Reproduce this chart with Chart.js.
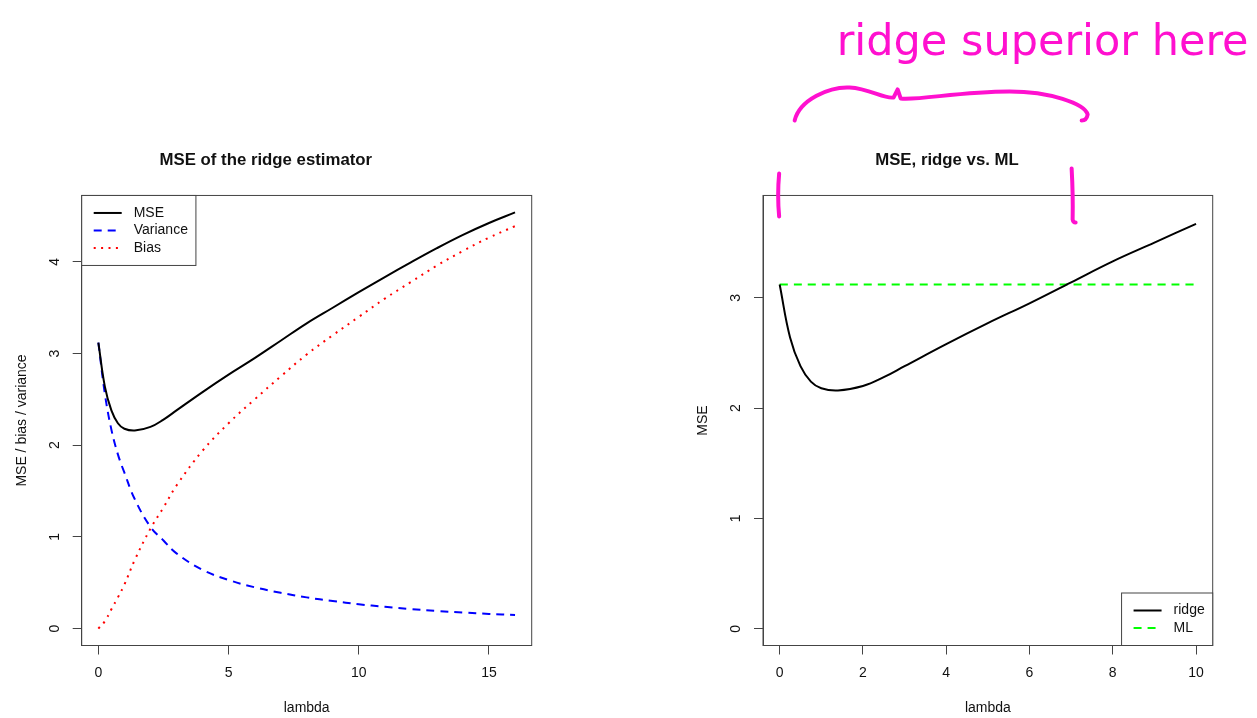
<!DOCTYPE html>
<html>
<head>
<meta charset="utf-8">
<title>Ridge MSE</title>
<script src="https://cdn.jsdelivr.net/npm/chart.js@4.4.0/dist/chart.umd.min.js"></script>
<style>
  html, body { margin: 0; padding: 0; background: #fff; }
  #wrap { position: relative; width: 1257px; height: 718px; }
  canvas { position: absolute; top: 0; }
  #left { left: 0; }
  #right { left: 628px; }
</style>
</head>
<body>
<div id="wrap">
  <canvas id="left" width="628" height="718"></canvas>
  <canvas id="right" width="629" height="718"></canvas>
</div>
<script>
// lambda grid and the curves read along it
const lambda   = [0, 0.25, 0.5, 0.75, 1, 1.4, 2, 2.5, 3, 4, 5, 6, 7, 8, 9, 10, 11, 12, 13, 14, 15, 16];
const mse      = [3.12, 2.64, 2.38, 2.24, 2.18, 2.16, 2.20, 2.28, 2.38, 2.58, 2.77, 2.95, 3.14, 3.33, 3.50, 3.67, 3.835, 3.995, 4.15, 4.295, 4.425, 4.54];
const variance = [3.12, 2.56, 2.17, 1.90, 1.70, 1.41, 1.11, 0.96, 0.82, 0.64, 0.53, 0.45, 0.39, 0.34, 0.30, 0.265, 0.237, 0.212, 0.192, 0.175, 0.16, 0.148];
const bias     = [0, 0.08, 0.21, 0.34, 0.48, 0.75, 1.09, 1.32, 1.56, 1.94, 2.24, 2.50, 2.75, 2.99, 3.20, 3.40, 3.60, 3.78, 3.96, 4.12, 4.265, 4.39];

// ML estimator: constant MSE
const mlLambda = [0, 10];
const mlMse    = [3.12, 3.12];

const leftXTicks  = [0, 5, 10, 15];
const leftYTicks  = [0, 1, 2, 3, 4];
const rightXTicks = [0, 2, 4, 6, 8, 10];
const rightYTicks = [0, 1, 2, 3];

// lambda range where ridge beats ML
const superiorRange = [0, 7];

const FONT = '"Liberation Sans", Arial, Helvetica, sans-serif';
const INK = '#111';
const AXIS = '#444';
const PINK = '#ff10cf';

function points(xs, ys) {
  return xs.map((x, i) => ({ x: x, y: ys[i] }));
}

function xAxis(min, max, ticks) {
  return {
    type: 'linear', min: min, max: max,
    afterBuildTicks: s => { s.ticks = ticks.map(v => ({ value: v })); },
    afterFit: s => { s.height = 72.5; },
    border: { display: true, color: AXIS, width: 1 },
    grid: { drawOnChartArea: false, drawTicks: true, tickLength: 9, color: AXIS, tickColor: AXIS, tickWidth: 1 },
    ticks: { color: INK, font: { family: FONT, size: 14 }, padding: 10.4, maxRotation: 0, autoSkip: false },
    title: { display: true, text: 'lambda', color: INK, font: { family: FONT, size: 14 }, padding: { top: 0, bottom: 1.9 } }
  };
}

function yAxis(min, max, ticks, label) {
  return {
    type: 'linear', position: 'left', min: min, max: max,
    afterBuildTicks: s => { s.ticks = ticks.map(v => ({ value: v })); },
    afterFit: s => { s.width = 81.7; },
    border: { display: true, color: AXIS, width: 1 },
    grid: { drawOnChartArea: false, drawTicks: true, tickLength: 9, color: AXIS, tickColor: AXIS, tickWidth: 1 },
    ticks: { color: INK, font: { family: FONT, size: 14 }, padding: 14.1, minRotation: 90, maxRotation: 90, crossAlign: 'center', autoSkip: false },
    title: { display: true, text: label, color: INK, font: { family: FONT, size: 14 }, padding: { top: 13.3, bottom: 0 } }
  };
}

function titleOpts(text) {
  return {
    display: true, text: text, color: INK,
    font: { family: FONT, size: 16.8, weight: 'bold' },
    padding: { top: 149.9, bottom: 25.4 }
  };
}

function line(label, data, color, dash) {
  return {
    label: label, data: data,
    borderColor: color, backgroundColor: color,
    borderWidth: 2, borderDash: dash,
    pointRadius: 0, fill: false,
    tension: 0.4
  };
}

// full frame round the plot region
const plotBox = {
  id: 'plotBox',
  beforeDatasetsDraw(chart) {
    const { ctx, chartArea: a } = chart;
    ctx.save();
    ctx.strokeStyle = AXIS;
    ctx.lineWidth = 1;
    ctx.strokeRect(a.left, a.top, a.right - a.left, a.bottom - a.top);
    ctx.restore();
  }
};

// boxed legend drawn inside the plot region
const insetLegend = {
  id: 'insetLegend',
  afterDatasetsDraw(chart, args, opts) {
    const { ctx, chartArea: a } = chart;
    const sets = chart.data.datasets;
    ctx.save();
    ctx.font = '14px ' + FONT;
    const textW = Math.max(...sets.map(d => ctx.measureText(d.label).width));
    const w = 52 + textW + 8;
    const h = 17.5 * (sets.length + 1);
    const x0 = opts.corner === 'topleft' ? a.left : a.right - w;
    const y0 = opts.corner === 'topleft' ? a.top : a.bottom - h;
    ctx.fillStyle = '#fff';
    ctx.fillRect(x0, y0, w, h);
    ctx.strokeStyle = AXIS;
    ctx.lineWidth = 1;
    ctx.strokeRect(x0, y0, w, h);
    sets.forEach((d, i) => {
      const y = y0 + 17.5 * (i + 1);
      ctx.beginPath();
      ctx.setLineDash(d.borderDash || []);
      ctx.strokeStyle = d.borderColor;
      ctx.lineWidth = d.borderWidth;
      ctx.moveTo(x0 + 12, y);
      ctx.lineTo(x0 + 40, y);
      ctx.stroke();
      ctx.setLineDash([]);
      ctx.fillStyle = INK;
      ctx.textBaseline = 'middle';
      ctx.fillText(d.label, x0 + 52, y);
    });
    ctx.restore();
  }
};

// pen note above the right panel: two ticks, a brace and the remark
const handNote = {
  id: 'handNote',
  afterDraw(chart) {
    const { ctx, chartArea: a, scales } = chart;
    const x0 = scales.x.getPixelForValue(superiorRange[0]);
    const x1 = scales.x.getPixelForValue(superiorRange[1]);
    const t = a.top;
    ctx.save();
    ctx.strokeStyle = PINK;
    ctx.fillStyle = PINK;
    ctx.lineWidth = 4;
    ctx.lineCap = 'round';
    ctx.lineJoin = 'round';

    ctx.beginPath();
    ctx.moveTo(x0 - 0.5, t - 22);
    ctx.quadraticCurveTo(x0 - 2.5, t, x0 - 0.5, t + 21);
    ctx.moveTo(x1 + 0.5, t - 27);
    ctx.quadraticCurveTo(x1 + 2, t, x1 + 1.5, t + 24);
    ctx.quadraticCurveTo(x1 + 2, t + 27, x1 + 4.5, t + 27);
    ctx.stroke();

    ctx.beginPath();
    ctx.moveTo(x0 + 15, t - 75);
    ctx.bezierCurveTo(x0 + 20, t - 96, x0 + 50, t - 109, x0 + 70, t - 108);
    ctx.bezierCurveTo(x0 + 90, t - 107, x0 + 105, t - 96, x0 + 114, t - 98);
    ctx.lineTo(x0 + 118, t - 106);
    ctx.lineTo(x0 + 121, t - 97);
    ctx.bezierCurveTo(x0 + 140, t - 95, x0 + 180, t - 104, x0 + 230, t - 104);
    ctx.bezierCurveTo(x0 + 270, t - 104, x0 + 305, t - 92, x0 + 308, t - 81);
    ctx.quadraticCurveTo(x0 + 307, t - 75, x0 + 302, t - 75);
    ctx.stroke();

    ctx.font = '43px "DejaVu Sans", sans-serif';
    ctx.textBaseline = 'alphabetic';
    ctx.fillText('ridge superior here', x0 + 57, t - 140.5, 416);
    ctx.restore();
  }
};

// left panel: MSE split into variance and bias
new Chart(document.getElementById('left'), {
  type: 'line',
  data: {
    datasets: [
      line('MSE', points(lambda, mse), '#000000', []),
      line('Variance', points(lambda, variance), '#0000ff', [8, 6]),
      line('Bias', points(lambda, bias), '#ff0000', [2, 5.4])
    ]
  },
  options: {
    responsive: false,
    animation: false,
    layout: { padding: { left: 0, right: 96.3, top: 0, bottom: 0 } },
    scales: {
      x: xAxis(-0.64, 16.64, leftXTicks),
      y: yAxis(-0.185, 4.725, leftYTicks, 'MSE / bias / variance')
    },
    plugins: {
      legend: { display: false },
      tooltip: { enabled: false },
      title: titleOpts('MSE of the ridge estimator'),
      insetLegend: { corner: 'topleft' }
    }
  },
  plugins: [plotBox, insetLegend]
});

// right panel: ridge against ML on a shorter lambda range
const ridgePts = points(lambda, mse).filter(p => p.x <= 10);

new Chart(document.getElementById('right'), {
  type: 'line',
  data: {
    datasets: [
      line('ridge', ridgePts, '#000000', []),
      line('ML', points(mlLambda, mlMse), '#00ff00', [8, 6])
    ]
  },
  options: {
    responsive: false,
    animation: false,
    layout: { padding: { left: 53.3, right: 44.3, top: 0, bottom: 0 } },
    scales: {
      x: xAxis(-0.4, 10.4, rightXTicks),
      y: yAxis(-0.151, 3.927, rightYTicks, 'MSE')
    },
    plugins: {
      legend: { display: false },
      tooltip: { enabled: false },
      title: titleOpts('MSE, ridge vs. ML'),
      insetLegend: { corner: 'bottomright' }
    }
  },
  plugins: [plotBox, insetLegend, handNote]
});
</script>
</body>
</html>
